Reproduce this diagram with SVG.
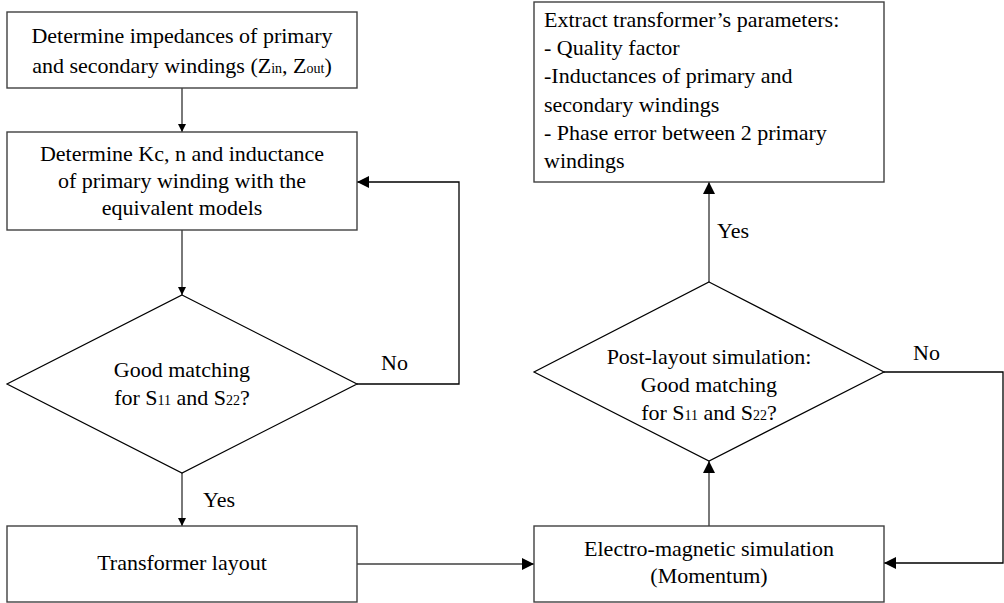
<svg xmlns="http://www.w3.org/2000/svg" width="1004" height="603" viewBox="0 0 1004 603" font-family="Liberation Serif, Times New Roman, serif" font-size="22">
  <style>
    .c { text-anchor: middle; }
    .sub { font-size: 14px; }
    .box { fill: #fff; stroke: #404040; stroke-width: 1.4; }
    .dia { fill: #fff; stroke: #000; stroke-width: 1.2; }
    .ln { fill: none; stroke: #404040; stroke-width: 1.4; }
    .lk { fill: none; stroke: #000; stroke-width: 1.3; }
  </style>
  <defs>
    <marker id="small" viewBox="0 0 8 8" refX="8" refY="4" markerWidth="8" markerHeight="8" markerUnits="userSpaceOnUse" orient="auto">
      <path d="M0,0 L8,4 L0,8 Z" fill="#000"/>
    </marker>
    <marker id="big" viewBox="0 0 12 12" refX="12" refY="6" markerWidth="12" markerHeight="12" markerUnits="userSpaceOnUse" orient="auto">
      <path d="M0,0 L12,6 L0,12 Z" fill="#000"/>
    </marker>
  </defs>

  <!-- connectors -->
  <g id="connectors">
    <path class="ln" d="M182,88 V132" marker-end="url(#small)"/>
    <path class="ln" d="M182,230 V295" marker-end="url(#small)"/>
    <path class="lk" d="M357,384 H459 V182 H357" marker-end="url(#big)"/>
    <path class="ln" d="M182,473 V526" marker-end="url(#small)"/>
    <path class="ln" d="M357,564 H534" marker-end="url(#big)"/>
    <path class="ln" d="M709,526 V461" marker-end="url(#big)"/>
    <path class="lk" d="M884,372 H1003 V563 H884" marker-end="url(#big)"/>
    <path class="ln" d="M709,282 V182" marker-end="url(#big)"/>
  </g>

  <g id="labels">
    <text x="381" y="370">No</text>
    <text x="203" y="507">Yes</text>
    <text x="913" y="360">No</text>
    <text x="717" y="238">Yes</text>
  </g>

  <g id="impedances">
    <rect class="box" x="7" y="12" width="350" height="76"/>
    <text class="c" x="182" y="43">Determine impedances of primary</text>
    <text class="c" x="182" y="73">and secondary windings (Z<tspan class="sub">in</tspan>, Z<tspan class="sub">out</tspan>)</text>
  </g>

  <g id="equivalent-models">
    <rect class="box" x="7" y="132" width="350" height="98"/>
    <text class="c" x="182" y="161">Determine Kc, n and inductance</text>
    <text class="c" x="182" y="188">of primary winding with the</text>
    <text class="c" x="182" y="215">equivalent models</text>
  </g>

  <g id="matching-check">
    <polygon class="dia" points="182,295 357,384 182,473 7,384"/>
    <text class="c" x="182" y="377">Good matching</text>
    <text class="c" x="182" y="405">for S<tspan class="sub">11</tspan> and S<tspan class="sub">22</tspan>?</text>
  </g>

  <g id="transformer-layout">
    <rect class="box" x="7" y="526" width="350" height="76"/>
    <text class="c" x="182" y="570">Transformer layout</text>
  </g>

  <g id="em-simulation">
    <rect class="box" x="534" y="526" width="350" height="76"/>
    <text class="c" x="709" y="556">Electro-magnetic simulation</text>
    <text class="c" x="709" y="583">(Momentum)</text>
  </g>

  <g id="post-layout-check">
    <polygon class="dia" points="709,282 884,372 709,461 534,372"/>
    <text class="c" x="709" y="364">Post-layout simulation:</text>
    <text class="c" x="709" y="392">Good matching</text>
    <text class="c" x="709" y="420">for S<tspan class="sub">11</tspan> and S<tspan class="sub">22</tspan>?</text>
  </g>

  <g id="extract-parameters">
    <rect class="box" x="534" y="2" width="350" height="180"/>
    <text x="544" y="27">Extract transformer’s parameters:</text>
    <text x="544" y="55">- Quality factor</text>
    <text x="544" y="83">-Inductances of primary and</text>
    <text x="544" y="112">secondary windings</text>
    <text x="544" y="140">- Phase error between 2 primary</text>
    <text x="544" y="168">windings</text>
  </g>
</svg>
